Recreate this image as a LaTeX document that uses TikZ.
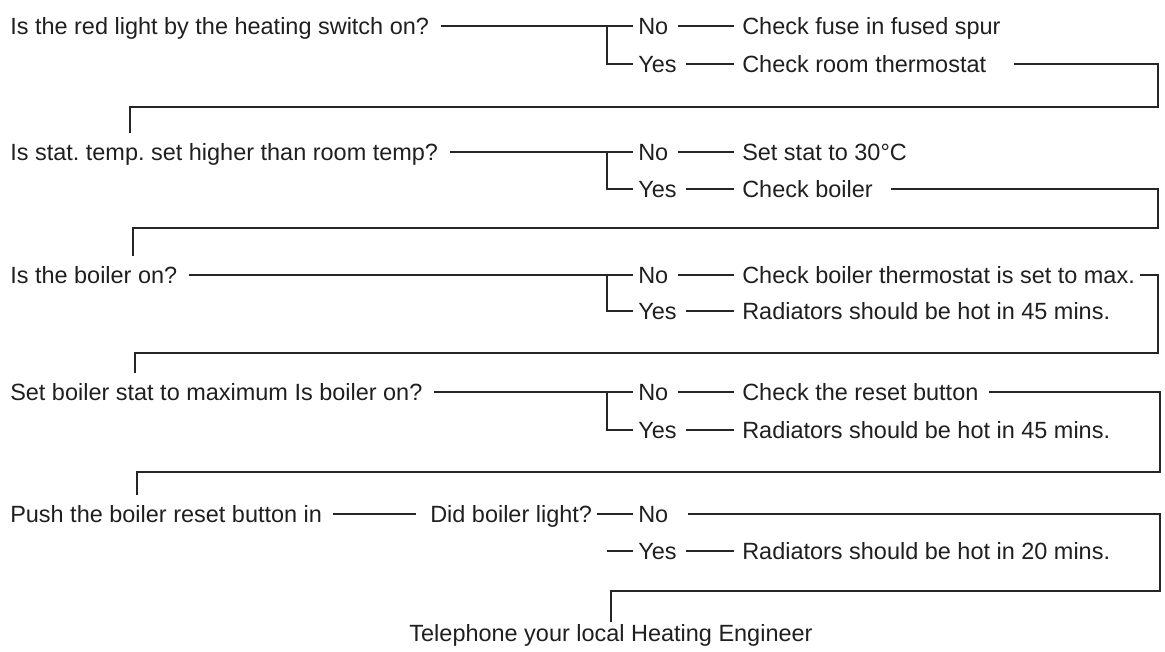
\documentclass[tikz,border=0pt]{standalone}
\usepackage{fontspec}
\setmainfont{Liberation Sans}
\newcommand{\flowfont}{\fontsize{17.6}{21}\selectfont\frenchspacing}

\begin{document}
\begin{tikzpicture}[
  x=0.75pt, y=-0.75pt,
  qtext/.style={anchor=west, inner xsep=3.75pt, inner ysep=1pt, text height=13.2pt,
                text depth=1pt, font=\flowfont, text=black!88},
  link/.style={line width=1.5pt, draw=black!85},
  dashline/.style={link, shorten <=3pt, shorten >=2pt}
]
  \useasboundingbox (0,0) rectangle (1165,651);

  % ===== Row 1: red light =====
  \node[qtext] (q1) at (5,26) {Is the red light by the heating switch on?};
  \node[qtext] (n1) at (633,26) {No};
  \node[qtext] (y1) at (633,64) {Yes};
  \node[qtext] (a1) at (737,26) {Check fuse in fused spur};
  \node[qtext] (c1) at (737,64) {Check room thermostat};
  \coordinate (j1) at (607,26);
  \coordinate (k1) at (1158,107);
  \coordinate (t2) at (130,133);

  % ===== Row 2: room thermostat =====
  \node[qtext] (q2) at (5,152) {Is stat. temp. set higher than room temp?};
  \node[qtext] (n2) at (633,152) {No};
  \node[qtext] (y2) at (633,189) {Yes};
  \node[qtext] (a2) at (737,152) {Set stat to 30°C};
  \node[qtext] (c2) at (737,189) {Check boiler};
  \coordinate (j2) at (607,152);
  \coordinate (k2) at (1158,228);
  \coordinate (t3) at (133,256);

  % ===== Row 3: boiler on =====
  \node[qtext] (q3) at (5,275) {Is the boiler on?};
  \node[qtext] (n3) at (633,275) {No};
  \node[qtext] (y3) at (633,311) {Yes};
  \node[qtext] (a3) at (737,275) {Check boiler thermostat is set to max.};
  \node[qtext] (c3) at (737,311) {Radiators should be hot in 45 mins.};
  \coordinate (j3) at (607,275);
  \coordinate (k3) at (1158,353);
  \coordinate (t4) at (135,373);

  % ===== Row 4: boiler stat to maximum =====
  \node[qtext] (q4) at (5,392) {Set boiler stat to maximum Is boiler on?};
  \node[qtext] (n4) at (633,392) {No};
  \node[qtext] (y4) at (633,430) {Yes};
  \node[qtext] (a4) at (737,392) {Check the reset button};
  \node[qtext] (c4) at (737,430) {Radiators should be hot in 45 mins.};
  \coordinate (j4) at (607,392);
  \coordinate (k4) at (1160,472);
  \coordinate (t5) at (137,495);

  % ===== Row 5: reset button =====
  \node[qtext] (q5) at (5,514) {Push the boiler reset button in};
  \node[qtext] (d5) at (425,514) {Did boiler light?};
  \node[qtext] (n5) at (633,514) {No};
  \node[qtext] (y5) at (633,551) {Yes};
  \node[qtext] (c5) at (737,551) {Radiators should be hot in 20 mins.};
  \coordinate (s5) at (607,551);
  \coordinate (k5) at (1160,591);
  \node[qtext, anchor=center] (tel) at (611,633) {Telephone your local Heating Engineer};

  % ===== Question lines and Yes branches =====
  \foreach \r in {1,2,3,4} {
    \draw[link, shorten <=5pt] (q\r.east) -- (n\r.west);
    \draw[link] (j\r) |- (y\r.west);
    \draw[dashline] (y\r.east) -- (c\r.west);
  }
  \foreach \r in {1,2,3,4}
    \draw[dashline] (n\r.east) -- (a\r.west);

  % ===== Loops back to the next question =====
  \draw[link, shorten <=17pt] (c1.east) -| (k1) -| (t2);
  \draw[link, shorten <=10pt] (c2.east) -| (k2) -| (t3);
  \draw[link] (a3.east) -| (k3) -| (t4);
  \draw[link, shorten <=4pt] (a4.east) -| (k4) -| (t5);

  % ===== Last question =====
  \draw[link, shorten <=4pt, shorten >=7pt] (q5.east) -- (d5.west);
  \draw[link] (d5.east) -- (n5.west);
  \draw[link] (s5) -- (y5.west);
  \draw[dashline] (y5.east) -- (c5.west);
  \draw[link, shorten <=11pt] (n5.east) -| (k5) -| (tel.north);
\end{tikzpicture}
\end{document}
